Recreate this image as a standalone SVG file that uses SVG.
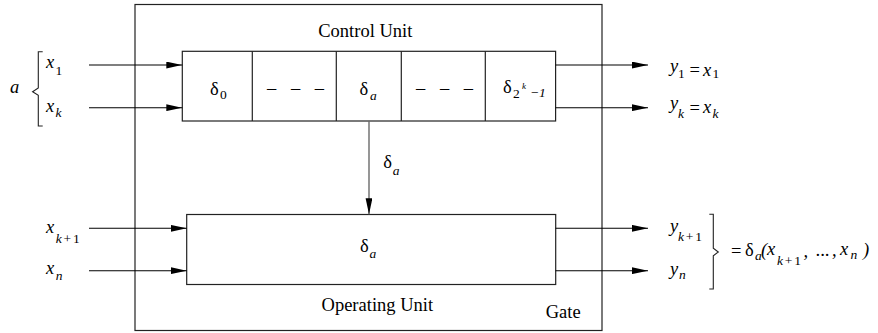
<svg xmlns="http://www.w3.org/2000/svg" width="878" height="333" viewBox="0 0 878 333" font-family="'Liberation Serif', 'DejaVu Serif', serif">
<style>
text{font-family:'Liberation Serif','DejaVu Serif',serif;font-size:18.5px;fill:#000}
.it{font-style:italic}
.sub{font-size:13.5px}
.kp{letter-spacing:1.8px}
.box{fill:none;stroke:#222;stroke-width:1.2}
.wire{stroke:#000;stroke-width:1.1;fill:none}
.gray{stroke:#6a6a6a;stroke-width:1.4;fill:none}
.brace{stroke:#222;stroke-width:1.1;fill:none}
</style>
<defs>
<marker id="ah" markerWidth="16" markerHeight="7" refX="16" refY="3.4" orient="auto" markerUnits="userSpaceOnUse">
<path d="M0,0 L16,3.4 L0,6.8 z" fill="#000"/>
</marker>
</defs>
<rect width="878" height="333" fill="#fff"/>

<g id="gate">
<rect class="box" x="135" y="4.5" width="467" height="326"/>
<text x="545.7" y="318">Gate</text>
</g>

<g id="control-unit">
<rect class="box" x="182.3" y="51.3" width="373.3" height="69.7"/>
<line class="box" x1="252.3" y1="51.3" x2="252.3" y2="121"/>
<line class="box" x1="336.3" y1="51.3" x2="336.3" y2="121"/>
<line class="box" x1="401.3" y1="51.3" x2="401.3" y2="121"/>
<line class="box" x1="485.3" y1="51.3" x2="485.3" y2="121"/>
<text x="365.3" y="37" text-anchor="middle">Control Unit</text>
<text x="210" y="95">δ</text><text class="sub" x="220" y="99">0</text>
<text x="267" y="94" word-spacing="10">– – –</text>
<text x="359.5" y="95">δ</text><text class="sub it" x="370" y="100">a</text>
<text x="416" y="94" word-spacing="10">– – –</text>
<text x="503" y="93">δ</text><text class="sub" x="513" y="98">2</text><text class="it" style="font-size:9px" x="522" y="89">k</text><text class="sub it" x="530" y="97">−1</text>
</g>

<g id="operating-unit">
<rect class="box" x="186.7" y="214.5" width="369" height="70"/>
<text x="360" y="251.7">δ</text><text class="sub it" x="369.5" y="258.3">a</text>
<text x="377.3" y="311" text-anchor="middle">Operating Unit</text>
</g>

<g id="connectors">
<line class="wire" x1="89" y1="65" x2="182.3" y2="65" marker-end="url(#ah)"/>
<line class="wire" x1="89" y1="107.7" x2="182.3" y2="107.7" marker-end="url(#ah)"/>
<line class="wire" x1="89" y1="228.3" x2="186.7" y2="228.3" marker-end="url(#ah)"/>
<line class="wire" x1="89" y1="270.7" x2="186.7" y2="270.7" marker-end="url(#ah)"/>
<line class="wire" x1="555.6" y1="65" x2="648" y2="65" marker-end="url(#ah)"/>
<line class="wire" x1="555.6" y1="107.7" x2="648" y2="107.7" marker-end="url(#ah)"/>
<line class="wire" x1="555.6" y1="228.3" x2="648" y2="228.3" marker-end="url(#ah)"/>
<line class="wire" x1="555.6" y1="270.7" x2="648" y2="270.7" marker-end="url(#ah)"/>
<line class="gray" x1="369" y1="121" x2="369" y2="214.3" marker-end="url(#ah)"/>
<text x="383.3" y="168">δ</text><text class="sub it" x="392.7" y="175">a</text>
</g>

<g id="inputs">
<text class="it" x="10" y="92.7">a</text>
<path class="brace" d="M42.7,51.7 H38.3 V88 L32.6,91.7 L38.3,95.3 V126 H42.7"/>
<text class="it" x="46" y="68">x</text><text class="sub" x="55.5" y="74.5">1</text>
<text class="it" x="46" y="111.7">x</text><text class="sub it" x="55.5" y="117">k</text>
<text class="it" x="46" y="232.7">x</text><text class="sub kp" x="55.7" y="243.3"><tspan font-style="italic">k</tspan>+1</text>
<text class="it" x="46" y="274">x</text><text class="sub it" x="55.7" y="279.5">n</text>
</g>

<g id="outputs">
<text class="it" x="670" y="71.5">y</text><text class="sub" x="678" y="77.5">1</text>
<text x="689.5" y="76">=</text>
<text class="it" x="703" y="76">x</text><text class="sub" x="712.5" y="77.5">1</text>
<text class="it" x="670" y="109">y</text><text class="sub it" x="678" y="117.5">k</text>
<text x="689.5" y="113.5">=</text>
<text class="it" x="703" y="113">x</text><text class="sub it" x="712.5" y="117.5">k</text>
<text class="it" x="670" y="231.6">y</text><text class="sub kp" x="678" y="240.7"><tspan font-style="italic">k</tspan>+1</text>
<text class="it" x="670" y="275">y</text><text class="sub it" x="679" y="278.5">n</text>
<path class="brace" d="M709.3,214.3 H713.3 V248.3 L718.3,252 L713.3,255.7 V289 H709.3"/>
<text x="731" y="256.5">=</text>
<text x="745" y="256">δ</text><text class="sub it" x="755" y="260">a</text>
<text class="it" x="761" y="256">(</text>
<text class="it" x="767" y="255">x</text><text class="sub kp" x="777" y="265"><tspan font-style="italic">k</tspan>+1</text>
<text class="it" x="803.5" y="257">,</text>
<text class="it" x="816" y="256">...</text>
<text class="it" x="832" y="256">,</text>
<text class="it" x="840" y="255">x</text><text class="sub it" x="850.5" y="259">n</text>
<text class="it" x="863" y="256">)</text>
</g>
</svg>
